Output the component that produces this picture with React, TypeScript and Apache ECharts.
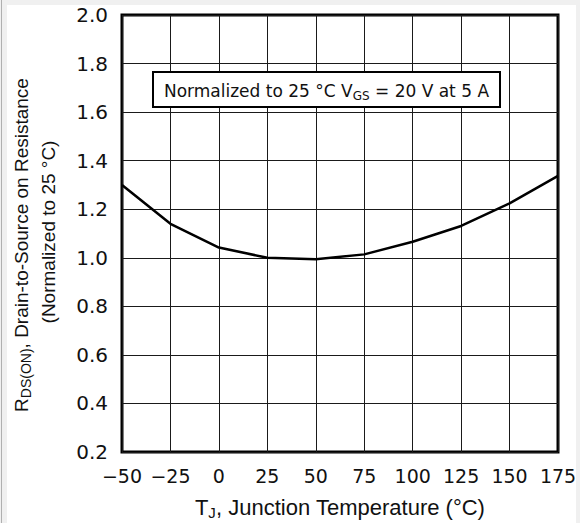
import React, { useEffect, useRef } from "react";
import * as echarts from "echarts";

const temperatures = [-50, -25, 0, 25, 50, 75, 100, 125, 150, 175];
const rdsNormalized = [1.3, 1.14, 1.042, 1.0, 0.994, 1.014, 1.066, 1.131, 1.224, 1.337];
const yMin = 0.2;
const yMax = 2.0;
const yStep = 0.2;
const xMin = -50;
const xMax = 175;
const xStep = 25;

export default function App() {
  const ref = useRef<HTMLDivElement>(null);
  useEffect(() => {
    if (!ref.current) return;
    const chart = echarts.init(ref.current, null, { renderer: "svg" });
    const data = temperatures.map((t, i) => [t, rdsNormalized[i]]);
    chart.setOption({
      animation: false,
      backgroundColor: "#ffffff",
      grid: {
        left: 122,
        right: 22,
        top: 15,
        bottom: 71,
        outerBoundsMode: "none",
        containLabel: false,
        show: true,
        borderColor: "#000",
        borderWidth: 3,
        backgroundColor: "transparent",
      },
      xAxis: {
        type: "value",
        min: xMin,
        max: xMax,
        interval: xStep,
        axisLine: { show: false },
        axisTick: { show: false },
        splitLine: { show: true, lineStyle: { color: "#1a1a1a", width: 1 } },
        axisLabel: {
          color: "#111",
          fontFamily: "DejaVu Sans",
          fontSize: 19,
          margin: 14,
          formatter: (v: number) => (v < 0 ? "\u2212" + Math.abs(v) : String(v)),
        },
        name: "{b|T}{s|J}{b|, Junction Temperature (°C)}",
        nameLocation: "middle",
        nameGap: 42,
        nameTextStyle: {
          rich: {
            b: { fontFamily: "Liberation Sans", fontSize: 22, color: "#111", lineHeight: 26 },
            s: { fontFamily: "Liberation Sans", fontSize: 15, color: "#111", lineHeight: 12, verticalAlign: "bottom" },
          },
        },
      },
      yAxis: {
        type: "value",
        min: yMin,
        max: yMax,
        interval: yStep,
        axisLine: { show: false },
        axisTick: { show: false },
        splitLine: { show: true, lineStyle: { color: "#1a1a1a", width: 1 } },
        axisLabel: {
          color: "#111",
          fontFamily: "DejaVu Sans",
          fontSize: 20,
          margin: 14,
          formatter: (v: number) => v.toFixed(1),
        },
      },
      graphic: [
        { type: "rect", left: 0, top: 0, z: 100, shape: { width: 580, height: 5 }, style: { fill: "#f0f0f0" }, silent: true },
        { type: "rect", left: 0, top: 0, z: 100, shape: { width: 7, height: 523 }, style: { fill: "#f0f0f0" }, silent: true },
        { type: "rect", left: 1, top: 0, z: 101, shape: { width: 1, height: 523 }, style: { fill: "#b0b0b0" }, silent: true },
        { type: "rect", right: 0, top: 0, z: 100, shape: { width: 4, height: 523 }, style: { fill: "#f0f0f0" }, silent: true },
        {
          type: "group",
          left: 152,
          top: 71,
          z: 100,
          children: [
            { type: "rect", z: 100, shape: { x: 0, y: 0, width: 347, height: 35 }, style: { fill: "#fff", stroke: "#000", lineWidth: 2 } },
            {
              type: "text",
              z: 101,
              x: 173.5,
              y: 19,
              style: {
                text: "{b|Normalized to 25 °C V}{s|GS}{b| = 20 V at 5 A}",
                align: "center",
                verticalAlign: "middle",
                rich: {
                  b: { fontFamily: "DejaVu Sans", fontSize: 17, fill: "#111", lineHeight: 22 },
                  s: { fontFamily: "DejaVu Sans", fontSize: 12, fill: "#111", lineHeight: 10, verticalAlign: "bottom" },
                },
              },
            },
          ],
        },
        {
          type: "text",
          x: 21,
          y: 245,
          z: 100,
          rotation: Math.PI / 2,
          style: {
            text: "{b|R}{s|DS(ON)}{b|, Drain-to-Source on Resistance}",
            align: "center",
            verticalAlign: "middle",
            rich: {
              b: { fontFamily: "Liberation Sans", fontSize: 19, fill: "#111", lineHeight: 24 },
              s: { fontFamily: "Liberation Sans", fontSize: 14, fill: "#111", lineHeight: 11, verticalAlign: "bottom" },
            },
          },
        },
        {
          type: "text",
          x: 48,
          y: 232,
          z: 100,
          rotation: Math.PI / 2,
          style: {
            text: "(Normalized to 25 °C)",
            align: "center",
            verticalAlign: "middle",
            fontFamily: "Liberation Sans",
            fontSize: 19,
            fill: "#111",
          },
        },
      ],
      series: [
        {
          type: "line",
          data,
          symbol: "none",
          smooth: false,
          lineStyle: { color: "#000", width: 2.5 },
          z: 5,
        },
      ],
    });
    return () => chart.dispose();
  }, []);
  return <div ref={ref} style={{ position: "fixed", left: 0, top: 0, width: 580, height: 523 }} />;
}
